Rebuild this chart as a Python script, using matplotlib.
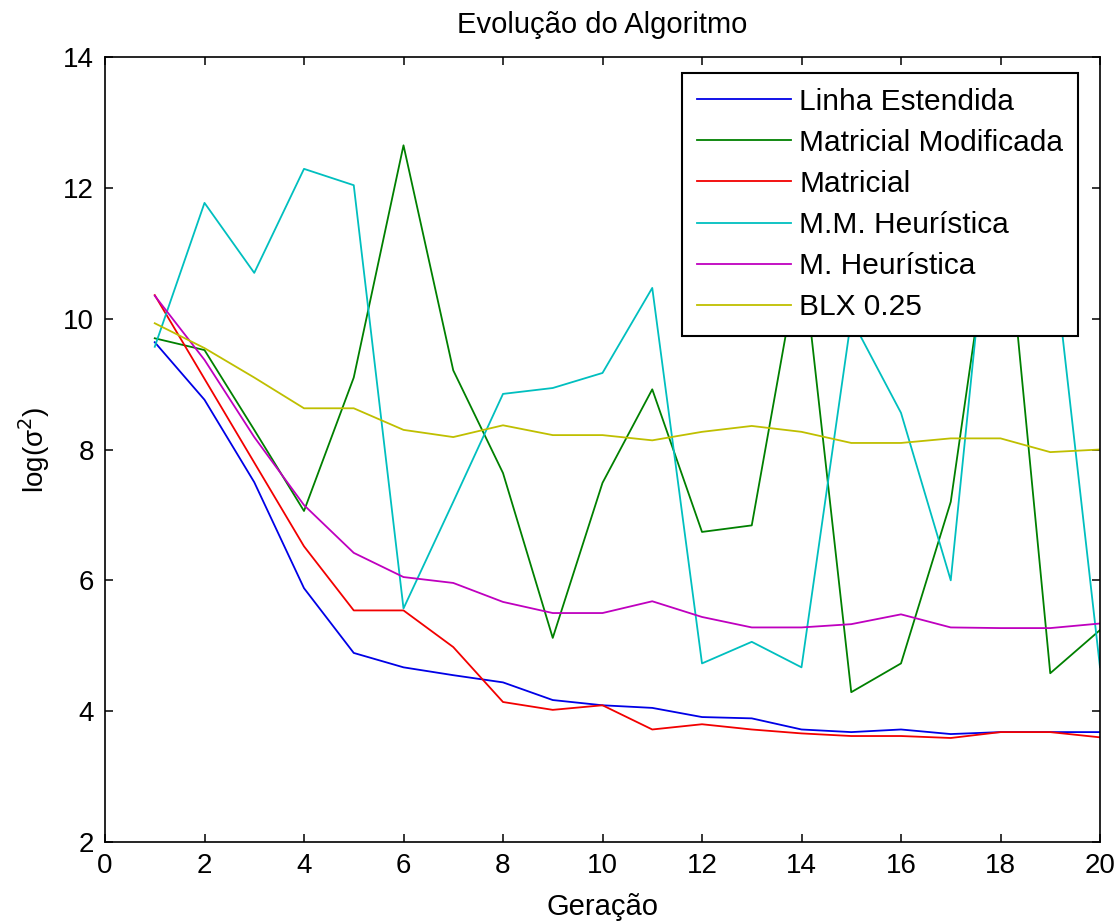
import numpy as np
import matplotlib
matplotlib.use("Agg")
import matplotlib.pyplot as plt

# log(sigma^2) per generation for each crossover operator
geracao = np.arange(1, 21)

linha_estendida = [9.64, 8.76, 7.50, 5.88, 4.89, 4.67, 4.55, 4.44, 4.17, 4.09,
                   4.05, 3.91, 3.89, 3.72, 3.68, 3.72, 3.65, 3.68, 3.68, 3.68]
matricial_mod = [9.70, 9.52, 8.30, 7.06, 9.10, 12.65, 9.21, 7.64, 5.12, 7.49,
                 8.92, 6.74, 6.84, 11.10, 4.29, 4.73, 7.20, 12.50, 4.58, 5.24]
matricial = [10.36, 9.08, 7.80, 6.52, 5.54, 5.54, 4.98, 4.14, 4.02, 4.09,
             3.72, 3.80, 3.72, 3.66, 3.62, 3.62, 3.59, 3.68, 3.68, 3.60]
mm_heuristica = [9.57, 11.77, 10.70, 12.29, 12.04, 5.57, 7.20, 8.85, 8.94, 9.17,
                 10.47, 4.73, 5.06, 4.67, 10.00, 8.56, 6.00, 13.50, 11.40, 4.67]
m_heuristica = [10.35, 9.37, 8.19, 7.15, 6.42, 6.05, 5.96, 5.67, 5.50, 5.50,
                5.68, 5.44, 5.28, 5.28, 5.33, 5.48, 5.28, 5.27, 5.27, 5.34]
blx = [9.93, 9.55, 9.10, 8.63, 8.63, 8.30, 8.19, 8.37, 8.22, 8.22,
       8.14, 8.27, 8.36, 8.27, 8.10, 8.10, 8.17, 8.17, 7.96, 8.00]

series = [
    (linha_estendida, "Linha Estendida", (0, 0, 0.9)),
    (matricial_mod, "Matricial Modificada", (0, 0.5, 0)),
    (matricial, "Matricial", (0.95, 0, 0)),
    (mm_heuristica, "M.M. Heurística", (0, 0.75, 0.75)),
    (m_heuristica, "M. Heurística", (0.75, 0, 0.75)),
    (blx, "BLX 0.25", (0.75, 0.75, 0)),
]

font = ["Liberation Sans", "DejaVu Sans"]

fig = plt.figure(figsize=(11.18, 9.24), dpi=100)
ax = fig.add_axes([105 / 1118, 82 / 924, 995 / 1118, 785 / 924])

for y, label, color in series:
    ax.plot(geracao, y, color=color, lw=1.3, label=label)

ax.set_xlim(0, 20)
ax.set_ylim(2, 14)
ax.set_xticks(np.arange(0, 21, 2))
ax.set_yticks(np.arange(2, 15, 2))

ax.tick_params(direction="in", top=True, right=True, length=6, width=1.1, pad=8)
for lbl in ax.get_xticklabels() + ax.get_yticklabels():
    lbl.set_family(font)
    lbl.set_fontsize(20)
for s in ax.spines.values():
    s.set_linewidth(1.2)

ax.set_title("Evolução do Algoritmo", family=font, fontsize=21, pad=17)
ax.set_xlabel("Geração", family=font, fontsize=21, labelpad=10)
ax.set_ylabel("log(σ$^2$)", family=font, fontsize=20, labelpad=8)

leg = ax.legend(loc="upper right", bbox_to_anchor=(0.978, 0.98), borderaxespad=0,
                fancybox=False, framealpha=1, edgecolor="black",
                prop={"family": font, "size": 21.5},
                handlelength=3.15, handletextpad=0.27, labelspacing=0.44,
                borderpad=0.5)
leg.get_frame().set_linewidth(1.5)

fig.savefig("out.png", dpi=100)
